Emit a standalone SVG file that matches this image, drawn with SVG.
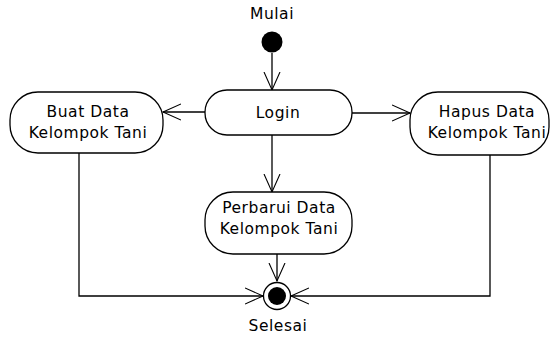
<svg xmlns="http://www.w3.org/2000/svg" width="551" height="338" viewBox="0 0 551 338">
<style>
.node{fill:#fff;stroke:#000;stroke-width:1.3}
.t{font-family:"DejaVu Sans","Liberation Sans",Arial,sans-serif;font-size:15.5px;letter-spacing:0.55px;fill:#000;text-anchor:middle}
.c{fill:none;stroke:#000;stroke-width:1.3}
</style>
<defs>
<marker id="arr" markerUnits="userSpaceOnUse" markerWidth="22" markerHeight="22" refX="18" refY="9" orient="auto">
<path d="M0,1 L18,9 L0,17" fill="none" stroke="#000" stroke-width="1.1"/>
</marker>
</defs>
<rect width="551" height="338" fill="#fff"/>
<g id="connectors">
<line class="c" x1="272" y1="53" x2="272" y2="90" marker-end="url(#arr)"/>
<line class="c" x1="205" y1="112" x2="163" y2="112" marker-end="url(#arr)"/>
<line class="c" x1="352" y1="113" x2="410" y2="113" marker-end="url(#arr)"/>
<line class="c" x1="272" y1="135" x2="272" y2="192" marker-end="url(#arr)"/>
<line class="c" x1="277" y1="254" x2="277" y2="281" marker-end="url(#arr)"/>
<polyline class="c" points="79,153 79,296 263,296" marker-end="url(#arr)"/>
<polyline class="c" points="490,155 490,296 291,296" marker-end="url(#arr)"/>
</g>
<g id="start">
<text class="t" x="272" y="19">Mulai</text>
<circle cx="272" cy="42" r="10.5" fill="#000"/>
</g>
<g id="login">
<rect class="node" x="205" y="90" width="147" height="45" rx="22" ry="22"/>
<text class="t" x="278" y="118">Login</text>
</g>
<g id="buat">
<rect class="node" x="10" y="92" width="153" height="61" rx="28" ry="28"/>
<text class="t" x="88" y="117">Buat Data</text>
<text class="t" x="88" y="138">Kelompok Tani</text>
</g>
<g id="hapus">
<rect class="node" x="410" y="92" width="139" height="63" rx="28" ry="28"/>
<text class="t" x="487" y="117">Hapus Data</text>
<text class="t" x="487" y="138">Kelompok Tani</text>
</g>
<g id="perbarui">
<rect class="node" x="205" y="192" width="147" height="62" rx="28" ry="28"/>
<text class="t" x="279" y="213">Perbarui Data</text>
<text class="t" x="279" y="234">Kelompok Tani</text>
</g>
<g id="end">
<circle cx="277" cy="296" r="13.5" fill="#fff" stroke="#000" stroke-width="1.3"/>
<circle cx="277" cy="296" r="9" fill="#000"/>
<text class="t" x="278" y="331">Selesai</text>
</g>
</svg>
